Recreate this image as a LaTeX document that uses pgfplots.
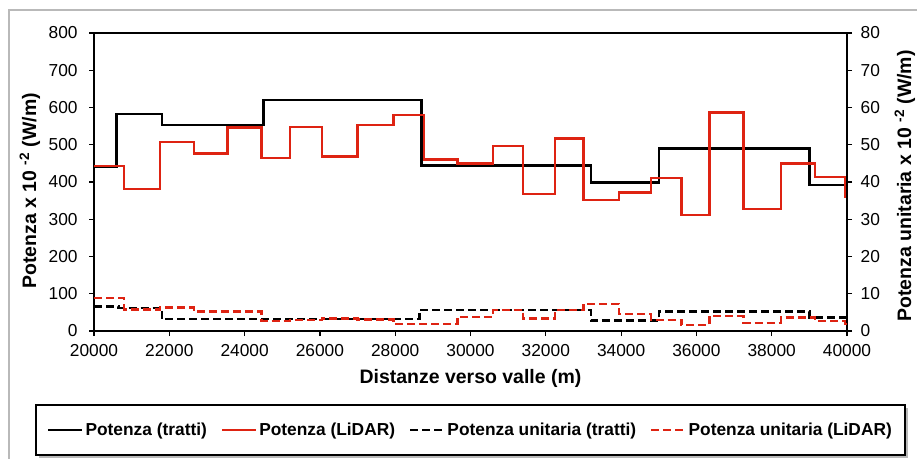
\documentclass[border=0pt]{standalone}
\usepackage{fontspec}
\setmainfont{Liberation Sans}
\usepackage{pgfplots}
\pgfplotsset{compat=1.18}
\definecolor{lred}{RGB}{222,35,18}
\definecolor{framegrey}{RGB}{185,185,185}

\pgfplotstableread{
x y
20000 440
20600 582
21800 553
24500 620
28700 444
33200 399
35000 490
39000 392
40000 392
}\tratti

\pgfplotstableread{
x y
20000 443
20800 381
21750 508
22650 477
23550 546
24450 465
25200 548
26050 468
27000 553
27950 580
28770 460
29650 450
30600 497
31400 367
32250 517
33000 352
33950 372
34800 410
35600 311
36350 587
37250 327
38250 450
39150 414
39950 360
40000 360
}\lidar

\pgfplotstableread{
x y
20000 6.6
20650 6.2
21800 3.2
28650 5.6
33200 2.8
35000 5.2
39000 3.6
40000 3.6
}\unitratti

\pgfplotstableread{
x y
20000 8.8
20800 5.8
21750 6.3
22650 5.2
24450 2.7
25200 2.9
26050 3.4
27000 3.1
27950 1.9
29650 3.8
30600 5.6
31400 3.4
32250 5.6
33000 7.2
33950 4.5
34800 3.0
35600 1.6
36350 4.0
37250 2.2
38250 3.6
39150 2.7
39950 1.8
40000 1.8
}\unilidar

\pgfplotsset{
  common/.style={
    scale only axis, width=564.75pt, height=223.5pt,
    at={(70.5pt,95.25pt)}, anchor=south west,
    xmin=20000, xmax=40000,
    tick align=outside, major tick length=3.75pt,
    axis line style={line width=0.9pt},
    tick style={line width=0.9pt, black},
    /pgf/number format/assume math mode=true,
    tick label style={font=\fontsize{13}{15}\selectfont},
    label style={font=\bfseries\fontsize{14.6}{17}\selectfont},
  }
}

\begin{document}
\begin{tikzpicture}
\useasboundingbox (0,0) rectangle (687.75pt,343.5pt);
\draw[framegrey, line width=1.5pt] (6.75pt,-3pt) -- (6.75pt,336pt) -- (690pt,336pt);
\fill[gray!55] (29pt,0.25pt) rectangle (680.75pt,37.75pt);
\draw[black, line width=0.8pt, fill=white] (27pt,2.25pt) rectangle (678.75pt,39.75pt);

\begin{axis}[common,
  ymin=0, ymax=800, ytick={0,100,...,800},
  xtick={20000,22000,...,40000},
  xtick pos=bottom, ytick pos=left,
  x tick label style={/pgf/number format/1000 sep={}, yshift=-3pt},
  y tick label style={xshift=-5pt},
  scaled x ticks=false,
  xlabel={Distanze verso valle (m)},
  xlabel style={at={(axis description cs:0.5,-0.158)}, anchor=center},
  ylabel={Potenza x 10 \textsuperscript{-2} (W/m)},
  ylabel style={at={(axis description cs:-0.085,0.47)}, anchor=center},
]
\addplot[const plot mark left, black, line width=1.8pt] table {\tratti};
\addplot[const plot mark left, lred, line width=1.8pt] table {\lidar};
\end{axis}

\begin{axis}[common,
  axis x line=none, axis y line*=right,
  ymin=0, ymax=80, ytick={0,10,...,80},
  y tick label style={xshift=3pt},
  ylabel={Potenza unitaria x 10 \textsuperscript{-2} (W/m)},
  ylabel style={at={(axis description cs:1.077,0.487)}, anchor=center},
  legend columns=4,
  legend style={at={(0.5,-0.332)}, anchor=center, draw=none, fill=none,
    font=\bfseries\fontsize{13}{15}\selectfont,
    /tikz/every even column/.append style={column sep=9pt},
    nodes={inner sep=1.5pt}},
  legend image code/.code={\draw[#1] (0pt,0pt) -- (25.5pt,0pt);},
]
\addlegendimage{black, line width=1.8pt}
\addlegendentry{Potenza (tratti)}
\addlegendimage{lred, line width=1.8pt}
\addlegendentry{Potenza (LiDAR)}
\addlegendimage{black, line width=1.8pt, dash pattern=on 6pt off 3pt}
\addlegendentry{Potenza unitaria (tratti)}
\addlegendimage{lred, line width=1.8pt, dash pattern=on 6pt off 3pt}
\addlegendentry{Potenza unitaria (LiDAR)}
\addplot[const plot mark left, black, line width=1.8pt, dash pattern=on 6pt off 3pt, forget plot] table {\unitratti};
\addplot[const plot mark left, lred, line width=1.8pt, dash pattern=on 6pt off 3pt, forget plot] table {\unilidar};
\end{axis}
\end{tikzpicture}
\end{document}
